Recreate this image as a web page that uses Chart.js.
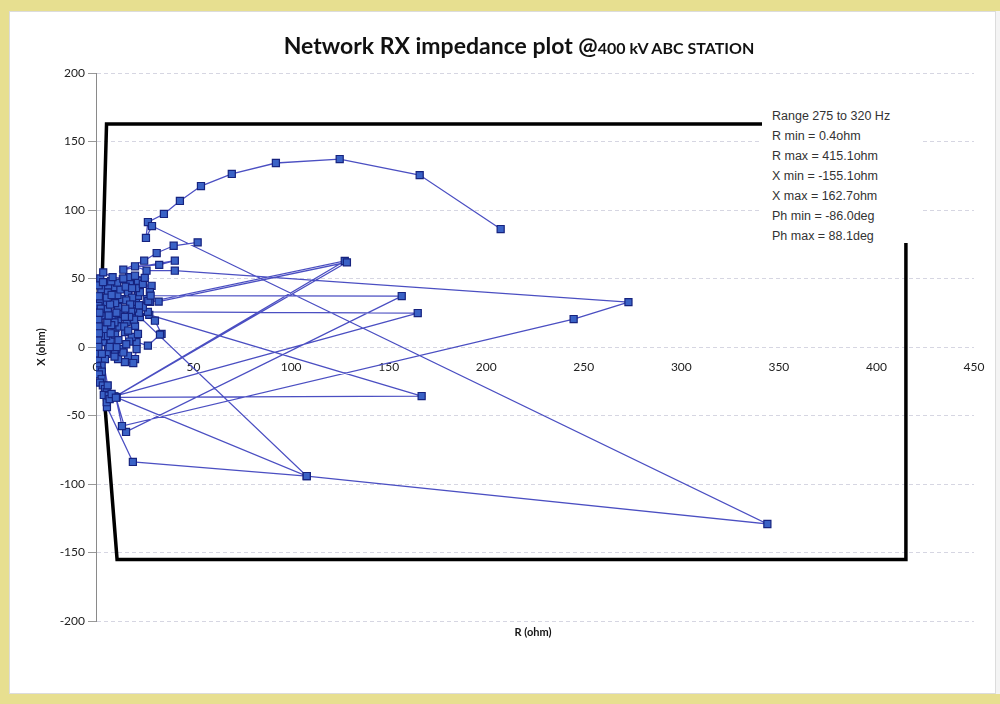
<!DOCTYPE html>
<html>
<head>
<meta charset="utf-8">
<title>Network RX impedance plot</title>
<script src="https://cdn.jsdelivr.net/npm/chart.js@4.4.0/dist/chart.umd.min.js"></script>
<style>
  html, body { margin: 0; padding: 0; width: 1000px; height: 704px; overflow: hidden; background: #e7df90; }
  #panel { position: absolute; left: 9px; top: 11px; width: 987px; height: 683px; background: #fff; border-right: 4px solid #f4f4f4; box-shadow: inset 0 0 0 1px #dcdcdc; }
  #plot { position: absolute; left: 0; top: 0; }
  #title { position: absolute; left: 0; top: 31px; width: 1038px; text-align: center; font-family: Lato, "Open Sans", sans-serif; font-weight: bold; color: #111; white-space: nowrap; }
  #title .main { font-size: 23px; }
  #title .sub { font-size: 16px; }
  #xtitle { position: absolute; left: 483px; width: 100px; top: 625px; text-align: center; font-family: Lato, sans-serif; font-weight: bold; font-size: 11px; color: #151515; }
  #info { position: absolute; left: 762px; top: 102px; width: 160px; height: 141px; background: #fff; box-sizing: border-box; padding: 4px 0 0 10px; font-family: "Liberation Sans", Arial, sans-serif; font-size: 12.5px; line-height: 20px; color: #333; }
</style>
</head>
<body>
<div id="panel"></div>
<canvas id="plot" width="1000" height="704"></canvas>
<div id="title"><span class="main">Network RX impedance plot @</span><span class="sub">400 kV ABC STATION</span></div>
<div id="xtitle">R (ohm)</div>
<div id="info"></div>
<script>
// Frequency sweep 275-320 Hz: impedance points [R ohm, X ohm] in sweep order
const sweep = [
  [207.4, 86.1], [165.9, 125.5], [124.9, 137.2], [92.2, 134.3], [69.6, 126.3], [53.8, 117.5],
  [43.0, 106.6], [34.8, 97.1], [26.6, 91.2], [25.6, 79.6], [28.7, 88.3],
  [344.1, -129.2], [108.0, -94.2], [18.9, -83.9], [5.6, -43.8], [5.5, -40.3], [10.6, -36.7],
  [166.9, -35.8],
  [27.3, 23.5], [30.2, 19.2], [33.6, 9.5], [32.8, 9.0], [26.6, 1.0], [20.8, 3.6], [18.3, 7.3],
  [21.5, 9.5], [20.0, 15.5], [15.7, 18.2], [11.3, 20.4], [14.8, 10.9], [16.4, -6.4], [20.0, -8.8],
  [20.8, -1.5], [19.1, -11.7], [14.8, -11.0], [11.3, -8.8], [9.7, -3.6], [13.2, -1.5], [6.1, -1.5],
  [3.6, 3.6], [4.6, 13.1], [2.9, 22.9], [8.0, 22.9], [6.1, 27.7], [22.5, 21.9],
  [108.0, -94.2], [9.2, -36.0], [164.9, 24.8],
  [26.6, 25.6], [24.0, 29.0], [22.0, 25.0], [19.5, 20.0], [19.0, 28.0], [20.5, 33.0], [21.5, 37.4],
  [22.5, 40.0], [20.5, 43.0], [16.4, 40.0], [13.2, 35.0], [11.3, 29.2], [4.6, 32.8],
  [2.0, 33.8], [2.7, 42.3], [6.1, 40.0], [9.7, 43.8], [13.8, 49.6], [17.4, 47.4], [21.5, 48.4],
  [24.0, 46.0], [28.5, 44.7], [27.6, 40.0], [26.0, 35.0], [27.6, 33.0],
  [127.5, 62.8], [9.8, -36.2], [128.6, 61.8],
  [32.1, 33.1], [26.8, 33.6], [22.0, 30.5], [18.0, 26.0], [10.0, 14.0], [7.5, 5.0],
  [9.8, 9.0], [12.0, 15.0], [9.5, 18.0], [12.5, 24.0], [10.5, 25.0], [9.8, 32.0], [11.0, 38.0],
  [12.5, 42.0], [10.8, 47.0], [17.0, 51.0], [15.2, 44.0], [18.5, 43.0], [18.5, 36.0], [15.5, 34.0],
  [17.5, 31.0], [15.0, 28.0], [17.0, 22.0], [14.8, 22.0], [14.5, 15.0], [16.5, 12.0], [17.0, 4.0],
  [15.5, 2.0], [14.0, -4.0], [10.5, 0.0], [11.5, 5.0], [9.5, -7.0], [5.5, -5.0], [7.0, 0.0],
  [5.2, 8.0], [7.5, 10.0], [7.8, 16.0], [5.8, 18.0], [6.5, 23.0], [7.2, 31.0], [5.5, 36.0],
  [8.0, 38.0], [6.2, 45.0], [7.8, 48.0], [2.2, 50.0], [1.4, 45.0], [1.5, 37.0], [1.3, 30.0],
  [2.4, 28.0], [1.2, 20.0], [1.4, 15.0], [2.5, 8.0], [1.1, 5.0], [1.3, 0.0], [1.0, -5.0], [1.2, -10.0],
  [4.6, -8.8], [2.9, -13.6], [0.6, -14.0], [0.8, -17.0], [3.0, -18.0], [1.5, -20.0], [2.9, -23.4],
  [2.0, -26.0], [3.5, -28.0], [4.6, -30.7], [5.5, -33.0], [4.0, -35.0], [6.5, -35.5], [7.0, -38.0],
  [8.0, -34.3], [6.0, -28.0],
  [3.0, -5.0], [1.5, 10.0], [1.8, 25.0], [3.6, 47.4], [3.7, 54.5], [8.5, 51.0], [14.0, 50.0],
  [20.0, 52.0], [25.0, 50.5], [28.0, 37.5],
  [156.7, 37.2], [15.4, -62.0], [10.2, -37.0], [13.3, -57.7], [244.8, 20.4], [272.9, 32.8],
  [40.4, 55.7], [25.9, 55.7], [20.0, 58.9], [32.4, 59.9], [40.4, 63.0], [14.0, 56.4], [24.7, 63.0],
  [31.1, 68.6], [39.8, 73.9], [52.1, 76.4]
];

// Limit polygon: R max / X max / X min edges and the phase-angle limits near the origin
const boundaryR = [415.1, 5.4, 2.2, 10.8, 415.1, 415.1];
const boundaryX = [162.7, 162.7, 0, -155.1, -155.1, 162.7];

// Axis ranges
const rAxis = { min: 0, max: 450, step: 50 };
const xAxis = { min: -200, max: 200, step: 50 };

// Summary lines for the sweep
const infoLines = [
  'Range 275 to 320 Hz',
  'R min = 0.4ohm',
  'R max = 415.1ohm',
  'X min = -155.1ohm',
  'X max = 162.7ohm',
  'Ph min = -86.0deg',
  'Ph max = 88.1deg'
];

document.getElementById('info').innerHTML = infoLines.map(t => '<div>' + t + '</div>').join('');

const sweepData = sweep.map(p => ({ x: p[0], y: p[1] }));
const boundaryData = boundaryR.map((r, i) => ({ x: r, y: boundaryX[i] }));

new Chart(document.getElementById('plot'), {
  type: 'scatter',
  data: {
    datasets: [
      {
        label: 'Impedance',
        data: sweepData,
        showLine: true,
        borderColor: '#4b4fc2',
        borderWidth: 1.3,
        pointStyle: 'rect',
        pointRadius: 5,
        pointBackgroundColor: '#3a62c6',
        pointBorderColor: '#16237f',
        pointBorderWidth: 1.2,
        order: 0
      },
      {
        label: 'Limits',
        data: boundaryData,
        showLine: true,
        borderColor: '#000000',
        borderWidth: 3.5,
        borderJoinStyle: 'miter',
        pointRadius: 0,
        order: 1
      }
    ]
  },
  options: {
    responsive: false,
    animation: false,
    layout: { padding: { left: 35, right: 26, top: 73, bottom: 83 } },
    plugins: { legend: { display: false }, tooltip: { enabled: false } },
    scales: {
      x: {
        type: 'linear',
        position: { y: 0 },
        min: rAxis.min, max: rAxis.max,
        ticks: { stepSize: rAxis.step, padding: 13, color: '#222', font: { family: 'Lato', size: 12 } },
        grid: { display: false, drawTicks: false },
        border: { display: false }
      },
      y: {
        type: 'linear',
        min: xAxis.min, max: xAxis.max,
        ticks: { stepSize: xAxis.step, padding: 3, color: '#222', font: { family: 'Lato', size: 12 } },
        grid: { color: 'rgba(165,165,190,0.45)', lineWidth: 1, tickLength: 8, tickColor: '#999' },
        border: { display: true, color: '#8a8a8a', width: 1, dash: [4, 3] },
        title: { display: true, text: 'X (ohm)', color: '#151515', padding: 0, font: { family: 'Lato', size: 11, weight: 'bold' } },
        afterFit(scale) { scale.width = 61; }
      }
    }
  }
});
</script>
</body>
</html>
